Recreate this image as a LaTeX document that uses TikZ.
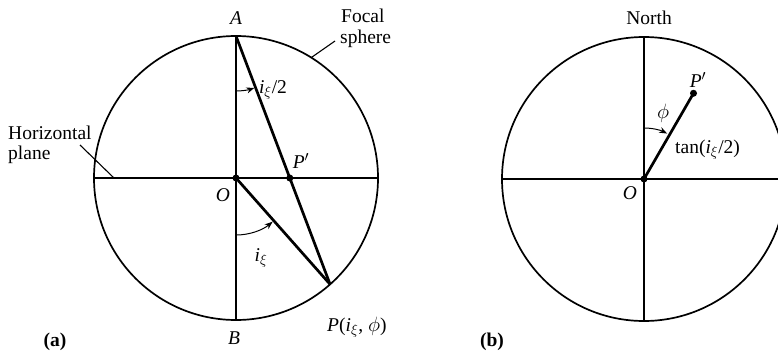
\documentclass[tikz,border=0pt]{standalone}
\usepackage{fontspec}
\setmainfont{Liberation Serif}
\usetikzlibrary{arrows.meta,calc}
\begin{document}
\begin{tikzpicture}[x=1pt,y=1pt,
  lbl/.style={inner sep=0pt,font=\fontsize{19.5}{22}\selectfont},
  circ/.style={line width=1.7pt},
  thinl/.style={line width=1.1pt},
  thickl/.style={line width=2.7pt},
  lead/.style={line width=1.1pt},
  angarr/.style={line width=1pt,-{Stealth[length=8pt,width=6pt]}},
  dotc/.style={circle,fill,inner sep=0pt,minimum size=7pt}]
\useasboundingbox (0,0) rectangle (778,357);
\clip (0,0) rectangle (778,357);
% ---------- (a) ----------
\coordinate (O1) at (236,179);
\coordinate (A) at (236,321);
\coordinate (B) at (236,37);
\coordinate (L1) at (94,179);
\coordinate (R1) at (378,179);
\coordinate (P) at ($(O1)+(-48.5:142)$);
\coordinate (Pp) at (289.8,179);
\draw[circ] (O1) circle[radius=142];
\draw[thinl] (L1) -- (R1);
\draw[thinl] (O1) -- (B);
\draw[thickl] (A) -- (O1);
\draw[thickl] (A) -- (P);
\draw[thickl] (O1) -- (P);
\node[dotc] (dO1) at (O1) {};
\node[dotc] (dPp) at (Pp) {};
\draw[angarr] ($(A)+(270:55)$) arc[start angle=270,end angle=289.5,radius=55];
\draw[angarr] ($(O1)+(270:57)$) arc[start angle=270,end angle=310,radius=57];
\node[lbl] (tA) at (236,339) {\textit{A}};
\node[lbl] (tB) at (234,19) {\textit{B}};
\node[lbl] (tO1) at (223,162) {\textit{O}};
\node[lbl] (tPp) at (301,196) {\textit{P}$'$};
\node[lbl] (thalf) at (273,267) {\textit{i}$_\xi$/2};
\node[lbl] (ti) at (261,99) {\textit{i}$_\xi$};
\node[lbl,anchor=west] (tP) at (327,30) {\textit{P}(\textit{i}$_\xi$, $\phi$)};
\node[lbl,anchor=west] (tFocal) at (341,341) {Focal};
\node[lbl,anchor=west] (tSphere) at (340,318) {sphere};
\coordinate (fsp) at ($(O1)+(58:142)$);
\draw[lead] (tSphere.west) ++(-5,-2) coordinate (fs0) -- (fsp);
\node[lbl,anchor=west] (tHor) at (8,224) {Horizontal};
\node[lbl,anchor=west] (tPlane) at (8,202) {plane};
\coordinate (hp0) at (80,212);
\coordinate (hp1) at (114,179);
\draw[lead] (hp0) -- (hp1);
\node[lbl,font=\fontsize{19.5}{22}\selectfont\bfseries] (ta) at (55,15) {(a)};
% ---------- (b) ----------
\coordinate (O2) at (644,178);
\coordinate (N2) at (644,320);
\coordinate (S2) at (644,36);
\coordinate (L2) at (502,178);
\coordinate (R2) at (786,178);
\coordinate (Pb) at ($(O2)+(60:99)$);
\draw[circ] (O2) circle[radius=142];
\draw[thinl] (L2) -- (R2);
\draw[thinl] (N2) -- (S2);
\draw[thickl] (O2) -- (Pb);
\node[dotc] (dO2) at (O2) {};
\node[dotc] (dPb) at (Pb) {};
\draw[angarr] ($(O2)+(90:51)$) arc[start angle=90,end angle=63,radius=51];
\node[lbl] (tN) at (649,339) {North};
\node[lbl] (tPb) at (698,277) {\textit{P}$'$};
\node[lbl] (tphi) at (663,244) {$\phi$};
\node[lbl,anchor=west] (ttan) at (675,207) {tan(\textit{i}$_\xi$/2)};
\node[lbl] (tO2) at (630,164) {\textit{O}};
\node[lbl,font=\fontsize{19.5}{22}\selectfont\bfseries] (tb) at (492,15) {(b)};
\end{tikzpicture}
\end{document}
